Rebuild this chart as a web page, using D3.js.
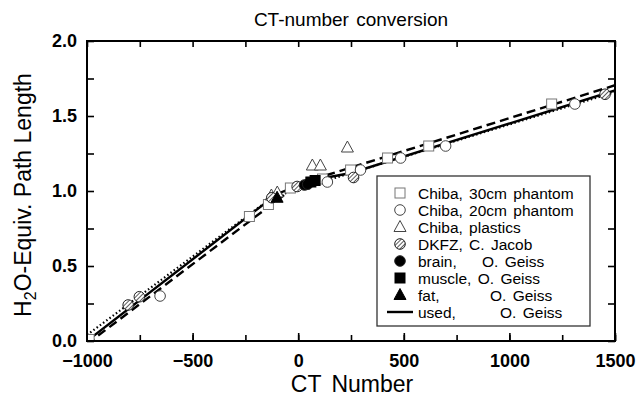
<!DOCTYPE html>
<html><head><meta charset="utf-8">
<script src="https://cdn.jsdelivr.net/npm/d3@7"></script>
<style>
body{margin:0;background:#fff}
text{font-family:"Liberation Sans",Arial,sans-serif;fill:#000}
.leg text{white-space:pre}
</style></head><body>
<svg id="chart" width="636" height="400"></svg>
<script>
// measured points [CT number, H2O-equiv. path length]
const chiba30 = [[-990,0.01],[-231,0.83],[-141,0.91],[-37,1.02],[115,1.08],[248,1.14],[423,1.22],[618,1.30],[1200,1.58]]
const chiba20 = [[-654,0.30],[138,1.06],[295,1.14],[485,1.22],[698,1.30],[1310,1.58]]
const plastics = [[-127,0.97],[-99,0.99],[67,1.17],[105,1.17],[233,1.29]]
const dkfz = [[-805,0.24],[-752,0.295],[-125,0.955],[-5,1.03],[262,1.09],[1453,1.645]]
const brain = [[30,1.04],[45,1.045]]
const muscle = [[60,1.06],[80,1.07]]
const fat = [[-100,0.955]]

// conversion curves
const usedLine = [[-1000,0.0],[-100,0.98],[60,1.07],[250,1.12],[1500,1.67]]
const dashedLine = [[-1000,-0.02],[-60,0.98],[30,1.06],[1500,1.705]]
const dottedLine = [[-1000,0.04],[-120,0.96],[1500,1.66]]

const xTicks = [-1000,-500,0,500,1000,1500]
const yTicks = [0,0.5,1,1.5,2]

const legendItems = [
  {sym:"openSquare", name:"Chiba, 30cm phantom"},
  {sym:"openCircle", name:"Chiba, 20cm phantom"},
  {sym:"openTriangle", name:"Chiba, plastics"},
  {sym:"hatchCircle", name:"DKFZ, C. Jacob"},
  {sym:"fillCircle", name:"brain,    O. Geiss"},
  {sym:"fillSquare", name:"muscle, O. Geiss"},
  {sym:"fillTriangle", name:"fat,        O. Geiss"},
  {sym:"line", name:"used,       O. Geiss"}
]

const margin = {left:87, right:21, top:41, bottom:59}
const W = 636, H = 400
const width = W - margin.left - margin.right
const height = H - margin.top - margin.bottom

const svg = d3.select("#chart")
const defs = svg.append("defs")
defs.append("clipPath").attr("id","plotclip").append("rect")
  .attr("width", width).attr("height", height)
const pat = defs.append("pattern").attr("id","hatch")
  .attr("patternUnits","userSpaceOnUse").attr("width",3).attr("height",3)
  .attr("patternTransform","rotate(-45)")
pat.append("rect").attr("width",3).attr("height",3).attr("fill","#fff")
pat.append("line").attr("x1",0).attr("y1",0).attr("x2",3).attr("y2",0)
  .attr("stroke","#333").attr("stroke-width",1.6)

const g = svg.append("g").attr("transform","translate(" + margin.left + "," + margin.top + ")")

const x = d3.scaleLinear().domain([-1000,1500]).range([0,width])
const y = d3.scaleLinear().domain([0,2]).range([height,0])

// title and axis titles
svg.append("text").attr("x", margin.left + width/2).attr("y", 26)
  .attr("text-anchor","middle").style("font-size","19px").style("word-spacing","2px")
  .text("CT-number conversion")
svg.append("text").attr("x", margin.left + width/2 + 1).attr("y", 392)
  .attr("text-anchor","middle").style("font-size","23px").style("word-spacing","4px")
  .text("CT Number")
const yl = svg.append("text").attr("transform","translate(31," + (margin.top + height/2 + 4) + ") rotate(-90)")
  .attr("text-anchor","middle").style("font-size","23px")
yl.append("tspan").text("H")
yl.append("tspan").attr("dy",5).style("font-size","16px").text("2")
yl.append("tspan").attr("dy",-5).text("O-Equiv. Path Length")

// axes: inward ticks on all four sides
const minorX = d3.range(-1000,1501,250)
const minorY = d3.range(0,2.01,0.25)
function styleAxis(sel){
  sel.select(".domain").remove()
  sel.selectAll("line").attr("stroke","#000").attr("stroke-width",1.6)
  sel.selectAll("text").style("font-size","18px").style("font-weight","bold")
    .style("font-family","'Liberation Sans',Arial,sans-serif")
}
g.append("g").attr("transform","translate(0," + height + ")")
  .call(d3.axisBottom(x).tickValues(minorX).tickSizeInner(-6).tickSizeOuter(0).tickFormat(""))
  .call(styleAxis)
g.append("g").attr("transform","translate(0," + height + ")")
  .call(d3.axisBottom(x).tickValues(xTicks).tickSizeInner(-8).tickSizeOuter(0).tickPadding(13)
    .tickFormat(d => d < 0 ? "\u2212" + Math.abs(d) : d))
  .call(styleAxis)
g.append("g")
  .call(d3.axisTop(x).tickValues(minorX).tickSizeInner(-6).tickSizeOuter(0).tickFormat(""))
  .call(styleAxis)
g.append("g")
  .call(d3.axisLeft(y).tickValues(minorY).tickSizeInner(-7).tickSizeOuter(0).tickFormat(""))
  .call(styleAxis)
g.append("g")
  .call(d3.axisLeft(y).tickValues(yTicks).tickSizeInner(0).tickSizeOuter(0).tickPadding(10)
    .tickFormat(d3.format(".1f")))
  .call(styleAxis)
g.append("g").attr("transform","translate(" + width + ",0)")
  .call(d3.axisRight(y).tickValues(minorY).tickSizeInner(-7).tickSizeOuter(0).tickFormat(""))
  .call(styleAxis)

// curves
const line = d3.line().x(d => x(d[0])).y(d => y(d[1]))
const curves = g.append("g").attr("clip-path","url(#plotclip)")
curves.append("path").datum(dottedLine).attr("d", line)
  .attr("fill","none").attr("stroke","#000").attr("stroke-width",2.2).attr("stroke-dasharray","1.5,2.5")
curves.append("path").datum(dashedLine).attr("d", line)
  .attr("fill","none").attr("stroke","#000").attr("stroke-width",2.4).attr("stroke-dasharray","9,5")
curves.append("path").datum(usedLine).attr("d", line)
  .attr("fill","none").attr("stroke","#000").attr("stroke-width",2.4)

// marker drawing
function drawSym(sel, sym){
  const s = 10
  if (sym === "openSquare" || sym === "fillSquare") {
    sel.append("rect").attr("x",-s/2).attr("y",-s/2).attr("width",s).attr("height",s)
      .attr("fill", sym === "fillSquare" ? "#000" : "#fff")
      .attr("stroke", sym === "fillSquare" ? "#000" : "#777").attr("stroke-width",1)
  } else if (sym === "openCircle" || sym === "fillCircle" || sym === "hatchCircle") {
    sel.append("circle").attr("r",5.3)
      .attr("fill", sym === "fillCircle" ? "#000" : sym === "hatchCircle" ? "url(#hatch)" : "#fff")
      .attr("stroke", sym === "openCircle" ? "#444" : "#222").attr("stroke-width",1)
  } else if (sym === "openTriangle" || sym === "fillTriangle") {
    sel.append("path").attr("d","M0,-6.5L6,4.5L-6,4.5Z")
      .attr("fill", sym === "fillTriangle" ? "#000" : "#fff")
      .attr("stroke", sym === "fillTriangle" ? "#000" : "#444").attr("stroke-width",1)
  } else if (sym === "line") {
    sel.append("line").attr("x1",-13).attr("x2",13).attr("stroke","#000").attr("stroke-width",2.4)
  }
}

const series = [
  [chiba30,"openSquare"],[chiba20,"openCircle"],[plastics,"openTriangle"],
  [dkfz,"hatchCircle"],[brain,"fillCircle"],[muscle,"fillSquare"],[fat,"fillTriangle"]
]
const pts = g.append("g").attr("clip-path","url(#plotclip)")
series.forEach(([data, sym]) => {
  pts.selectAll(null).data(data).enter().append("g")
    .attr("transform", d => "translate(" + x(d[0]) + "," + y(d[1]) + ")")
    .each(function(){ drawSym(d3.select(this), sym) })
})

// frame
g.append("rect").attr("width",width).attr("height",height)
  .attr("fill","none").attr("stroke","#000").attr("stroke-width",2)

// legend
const leg = svg.append("g").attr("class","leg").attr("transform","translate(377,176)")
leg.append("rect").attr("width",213).attr("height",150)
  .attr("fill","#fff").attr("stroke","#333").attr("stroke-width",1.3)
legendItems.forEach((it, i) => {
  const row = leg.append("g").attr("transform","translate(0," + (17 + i*17) + ")")
  drawSym(row.append("g").attr("transform","translate(23,0)"), it.sym)
  row.append("text").attr("x",41).attr("y",5.5).style("font-size","15.5px")
    .style("word-spacing","2px").text(it.name)
})
</script>
</body></html>
